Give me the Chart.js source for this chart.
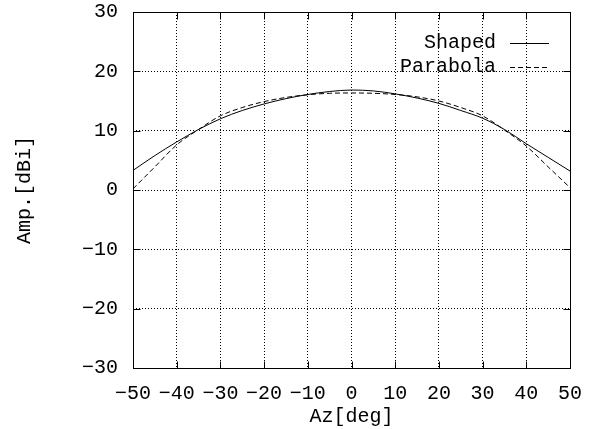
<!DOCTYPE html>
<html>
<head>
<meta charset="utf-8">
<script src="https://cdn.jsdelivr.net/npm/chart.js@4"></script>
<style>
  html, body { margin: 0; padding: 0; background: #fff; }
  #wrap { width: 593px; height: 429px; }
</style>
</head>
<body>
<div id="wrap"><canvas id="ampChart" width="593" height="429"></canvas></div>
<script>
// Azimuth samples (deg) and the two patterns (dBi)
const azimuth = [-50, -45, -40, -35, -30, -25, -20, -15, -10, -5, 0, 5, 10, 15, 20, 25, 30, 35, 40, 45, 50];
const shaped = [3.3, 5.8, 8.1, 10.2, 12.0, 13.4, 14.5, 15.4, 16.1, 16.6, 16.85, 16.7, 16.2, 15.5, 14.6, 13.4, 12.1, 10.2, 7.8, 5.5, 3.2];
const parabola = [0.2, 3.9, 7.6, 10.2, 12.5, 13.9, 14.9, 15.6, 16.05, 16.3, 16.35, 16.3, 16.1, 15.7, 15.0, 13.9, 12.5, 10.1, 7.4, 3.9, 0.4];

// Axis tick values
const xTicks = [-50, -40, -30, -20, -10, 0, 10, 20, 30, 40, 50];
const yTicks = [-30, -20, -10, 0, 10, 20, 30];

const FONT = '"Liberation Mono", "DejaVu Sans Mono", monospace';

function toPoints(xs, ys) {
    return xs.map((x, i) => ({ x: x, y: ys[i] }));
}

function fmt(v) {
    return String(v).replace('-', '\u2212');
}

// Draws the gnuplot-style frame, inward ticks and key
const framePlugin = {
    id: 'frame',
    afterDatasetsDraw(chart) {
        const ctx = chart.ctx;
        const a = chart.chartArea;
        const xs = chart.scales.x;
        const ys = chart.scales.y;
        const L = Math.round(a.left) + 0.5;
        const R = Math.round(a.right) + 0.5;
        const T = Math.round(a.top) + 0.5;
        const B = Math.round(a.bottom) + 0.5;
        const tl = 7;

        ctx.save();
        ctx.strokeStyle = '#000';
        ctx.lineWidth = 1;
        ctx.setLineDash([]);

        ctx.beginPath();
        xTicks.forEach(v => {
            const px = Math.round(xs.getPixelForValue(v)) + 0.5;
            ctx.moveTo(px, B); ctx.lineTo(px, B - tl);
            ctx.moveTo(px, T); ctx.lineTo(px, T + tl);
        });
        yTicks.forEach(v => {
            const py = Math.round(ys.getPixelForValue(v)) + 0.5;
            ctx.moveTo(L, py); ctx.lineTo(L + tl, py);
            ctx.moveTo(R, py); ctx.lineTo(R - tl, py);
        });
        ctx.stroke();

        ctx.strokeRect(L, T, R - L, B - T);

        // key, gnuplot layout: label right aligned, sample to its right
        ctx.font = '20px ' + FONT;
        ctx.fillStyle = '#000';
        ctx.textAlign = 'right';
        ctx.textBaseline = 'middle';
        chart.data.datasets.forEach((ds, i) => {
            const y = 43 + i * 24;
            ctx.fillText(ds.label, 496, y);
            ctx.beginPath();
            ctx.setLineDash(ds.borderDash || []);
            ctx.lineWidth = ds.borderWidth;
            ctx.moveTo(510, Math.round(y) + 0.5);
            ctx.lineTo(549, Math.round(y) + 0.5);
            ctx.stroke();
        });
        ctx.restore();
    }
};

function initializeChart() {

    const ctx = document.getElementById('ampChart').getContext('2d');

    new Chart(ctx, {
        type: 'line',
        data: {
            datasets: [{
                label: 'Shaped',
                data: toPoints(azimuth, shaped),
                borderColor: '#000',
                borderWidth: 1,
                pointRadius: 0,
                fill: false,
                cubicInterpolationMode: 'monotone'
            }, {
                label: 'Parabola',
                data: toPoints(azimuth, parabola),
                borderColor: '#000',
                borderWidth: 1,
                borderDash: [5, 3],
                pointRadius: 0,
                fill: false,
                cubicInterpolationMode: 'monotone'
            }]
        },
        options: {
            responsive: false,
            animation: false,
            layout: { padding: { left: 0, top: 12, right: 23, bottom: 0 } },
            plugins: {
                legend: { display: false },
                tooltip: { enabled: false }
            },
            scales: {
                x: {
                    type: 'linear',
                    min: -50,
                    max: 50,
                    afterFit(scale) {
                        scale.height = 61;
                        scale.paddingLeft = 0;
                        scale.paddingRight = 0;
                    },
                    afterBuildTicks(scale) { scale.ticks = xTicks.map(v => ({ value: v })); },
                    grid: { color: '#000', drawTicks: false },
                    border: { display: false, dash: [1, 2] },
                    ticks: {
                        color: '#000',
                        padding: 14,
                        maxRotation: 0,
                        autoSkip: false,
                        font: { family: FONT, size: 20 },
                        callback: v => fmt(v)
                    },
                    title: {
                        display: true,
                        text: 'Az[deg]',
                        color: '#000',
                        padding: { top: 0, bottom: 0 },
                        font: { family: FONT, size: 20 }
                    }
                },
                y: {
                    min: -30,
                    max: 30,
                    afterFit(scale) {
                        scale.width = 133;
                        scale.paddingTop = 0;
                        scale.paddingBottom = 0;
                    },
                    afterBuildTicks(scale) { scale.ticks = yTicks.map(v => ({ value: v })); },
                    grid: { color: '#000', drawTicks: false },
                    border: { display: false, dash: [1, 2] },
                    ticks: {
                        color: '#000',
                        padding: 15,
                        autoSkip: false,
                        font: { family: FONT, size: 20 },
                        callback: v => fmt(v)
                    },
                    title: {
                        display: true,
                        text: 'Amp.[dBi]',
                        color: '#000',
                        padding: { top: 13, bottom: 0 },
                        font: { family: FONT, size: 20 }
                    }
                }
            }
        },
        plugins: [framePlugin]
    });
}

window.onload = function () {

    initializeChart();
};
</script>
</body>
</html>
